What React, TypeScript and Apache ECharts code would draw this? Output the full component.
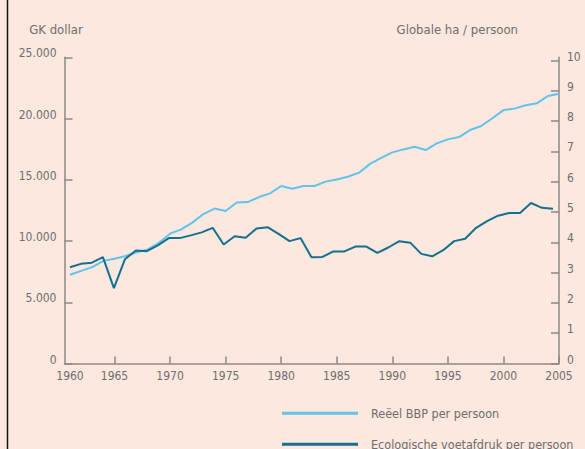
import React, { useEffect, useRef } from 'react';
import * as echarts from 'echarts';

const years = [
  1961, 1962, 1963, 1964, 1965, 1966, 1967, 1968, 1969, 1970,
  1971, 1972, 1973, 1974, 1975, 1976, 1977, 1978, 1979, 1980,
  1981, 1982, 1983, 1984, 1985, 1986, 1987, 1988, 1989, 1990,
  1991, 1992, 1993, 1994, 1995, 1996, 1997, 1998, 1999, 2000,
  2001, 2002, 2003, 2004, 2005,
];

// Reëel BBP per persoon (GK dollar)
const bbp = [
  7250, 7560, 7870, 8380, 8550, 8780, 9080, 9310, 9860, 10600,
  10950, 11500, 12200, 12650, 12450, 13150, 13180, 13590, 13890, 14490,
  14270, 14490, 14490, 14850, 15030, 15250, 15580, 16300, 16790, 17240,
  17480, 17690, 17430, 17970, 18300, 18490, 19060, 19390, 20020, 20690,
  20810, 21080, 21240, 21840, 22030,
];

// Ecologische voetafdruk per persoon (globale ha / persoon)
const footprint = [
  3.18, 3.29, 3.33, 3.51, 2.49, 3.44, 3.73, 3.71, 3.9, 4.14,
  4.14, 4.23, 4.33, 4.48, 3.93, 4.2, 4.15, 4.46, 4.5, 4.28,
  4.04, 4.14, 3.51, 3.52, 3.7, 3.7, 3.86, 3.86, 3.65, 3.83,
  4.04, 3.99, 3.62, 3.54, 3.74, 4.04, 4.12, 4.48, 4.7, 4.88,
  4.97, 4.97, 5.3, 5.14, 5.11,
];

const xTickYears = [1965, 1970, 1975, 1980, 1985, 1990, 1995, 2000, 2005];
const xLabelYears = [1960.5, 1965, 1970, 1975, 1980, 1985, 1990, 1995, 2000, 2005];
const leftTicks = [0, 5000, 10000, 15000, 20000, 25000];
const rightTicks = [0, 1, 2, 3, 4, 5, 6, 7, 8, 9, 10];

const seriesNames = ['Reëel BBP per persoon', 'Ecologische voetafdruk per persoon'];
const leftAxisName = 'GK dollar';
const rightAxisName = 'Globale ha / persoon';

const FONT = "'DejaVu Sans Condensed', 'DejaVu Sans', sans-serif";
const GREY = '#6e6e6e';
const AXIS = '#8a8a8a';
const LIGHT = '#62c4ec';
const DARK = '#156f8e';
const BG = '#fce8de';

export default function App() {
  const ref = useRef<HTMLDivElement>(null);

  useEffect(() => {
    if (!ref.current) return;
    const chart = echarts.init(ref.current, undefined, { renderer: 'svg' });
    const labelStyle = { color: GREY, fontFamily: FONT, fontSize: 12 };
    const nameStyle = { color: GREY, fontFamily: FONT, fontSize: 13 };
    const legendBase = {
      orient: 'vertical',
      left: 282,
      padding: 0,
      icon: 'rect',
      itemWidth: 76,
      itemHeight: 3,
      textStyle: {
        color: GREY,
        fontFamily: FONT,
        fontSize: 12.5,
        lineHeight: 16,
        padding: [0, 0, 0, 8],
      },
    };

    chart.setOption({
      animation: false,
      backgroundColor: BG,
      grid: { left: 64.5, right: 26, top: 57.3, bottom: 85.5, containLabel: false },
      legend: [
        { ...legendBase, top: 405.3, data: [seriesNames[0]] },
        { ...legendBase, top: 436.3, data: [seriesNames[1]] },
      ],
      xAxis: [
        {
          type: 'value',
          min: 1960.5,
          max: 2005,
          axisLine: { show: true, lineStyle: { color: AXIS, width: 1.5 } },
          axisTick: {
            show: true,
            inside: true,
            length: 7,
            customValues: xTickYears,
            lineStyle: { color: AXIS, width: 1.5 },
          },
          axisLabel: {
            ...labelStyle,
            margin: 6,
            customValues: xLabelYears,
            formatter: (v: number) => (v === 1960.5 ? '{f|1960}' : String(v)),
            rich: { f: { ...labelStyle, padding: [0, 0, 0, 11] } },
          },
          splitLine: { show: false },
        },
        {
          type: 'value',
          min: 1960.5,
          max: 2005.55,
          show: false,
          splitLine: { show: false },
        },
      ],
      yAxis: [
        {
          type: 'value',
          min: 0,
          max: 25000,
          interval: 5000,
          name: leftAxisName,
          nameLocation: 'end',
          nameGap: 21,
          nameTextStyle: { ...nameStyle, align: 'center', padding: [0, 17, 0, 0] },
          axisLine: { show: true, lineStyle: { color: AXIS, width: 1.5 } },
          axisTick: { show: true, inside: true, length: 8, customValues: leftTicks, lineStyle: { color: AXIS, width: 1.5 } },
          axisLabel: {
            ...labelStyle,
            margin: 8,
            verticalAlign: 'bottom',
            lineHeight: 8,
            customValues: leftTicks,
            formatter: (v: number) => (v === 0 ? '0' : `${v / 1000}.000`),
          },
          splitLine: { show: false },
        },
        {
          type: 'value',
          min: 0,
          max: 10.11,
          position: 'right',
          name: rightAxisName,
          nameLocation: 'end',
          nameGap: 21,
          nameTextStyle: { ...nameStyle, align: 'right', padding: [0, 41, 0, 0] },
          axisLine: { show: true, lineStyle: { color: AXIS, width: 1.5 } },
          axisTick: { show: true, inside: true, length: 8, customValues: rightTicks, lineStyle: { color: AXIS, width: 1.5 } },
          axisLabel: {
            ...labelStyle,
            margin: 8,
            verticalAlign: 'bottom',
            lineHeight: 8,
            customValues: rightTicks,
          },
          splitLine: { show: false },
        },
      ],
      series: [
        {
          name: seriesNames[0],
          type: 'line',
          xAxisIndex: 0,
          yAxisIndex: 0,
          showSymbol: false,
          symbol: 'none',
          color: LIGHT,
          lineStyle: { color: LIGHT, width: 2 },
          data: years.map((y, i) => [y, bbp[i]]),
        },
        {
          name: seriesNames[1],
          type: 'line',
          xAxisIndex: 1,
          yAxisIndex: 1,
          showSymbol: false,
          symbol: 'none',
          color: DARK,
          lineStyle: { color: DARK, width: 2 },
          data: years.map((y, i) => [y, footprint[i]]),
        },
      ],
      graphic: [
        {
          type: 'line',
          shape: { x1: 7.5, y1: 0, x2: 7.5, y2: 449 },
          style: { stroke: '#111111', lineWidth: 1.5 },
        },
      ],
    });

    return () => chart.dispose();
  }, []);

  return (
    <div
      ref={ref}
      style={{ position: 'fixed', left: 0, top: 0, width: 585, height: 449 }}
    />
  );
}
